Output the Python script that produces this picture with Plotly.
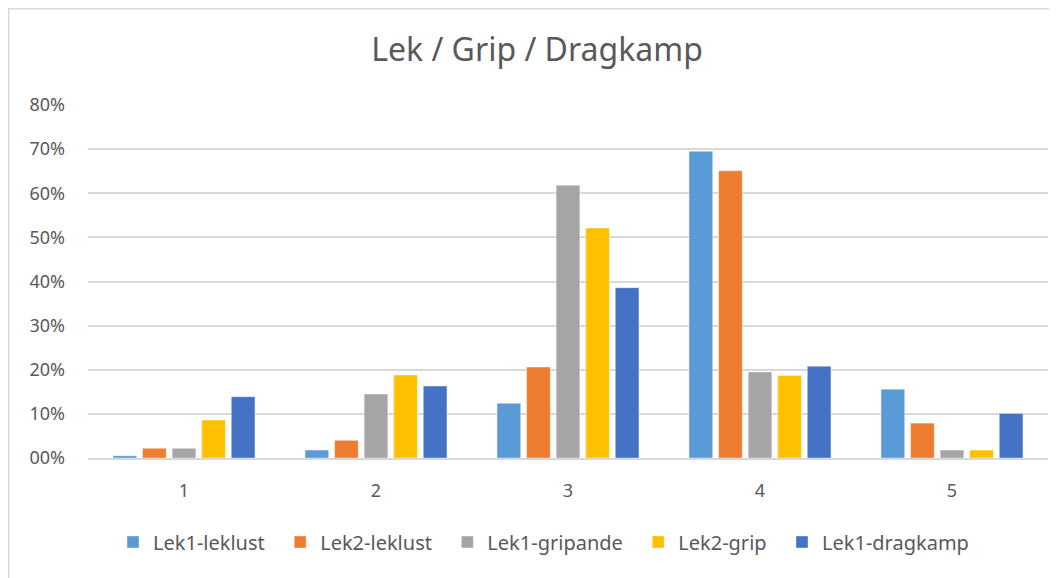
import plotly.graph_objects as go

categories = ["1", "2", "3", "4", "5"]
series_names = ["Lek1-leklust", "Lek2-leklust", "Lek1-gripande", "Lek2-grip", "Lek1-dragkamp"]
lek1_leklust = [0.005, 0.018, 0.124, 0.695, 0.156]
lek2_leklust = [0.022, 0.040, 0.206, 0.651, 0.079]
lek1_gripande = [0.022, 0.145, 0.618, 0.195, 0.018]
lek2_grip = [0.086, 0.188, 0.521, 0.187, 0.018]
lek1_dragkamp = [0.139, 0.163, 0.386, 0.208, 0.101]
colors = ["#5B9BD5", "#ED7D31", "#A5A5A5", "#FFC000", "#4472C4"]
tick_vals = [0, 0.1, 0.2, 0.3, 0.4, 0.5, 0.6, 0.7, 0.8]
tick_text = ["00%", "10%", "20%", "30%", "40%", "50%", "60%", "70%", "80%"]

all_series = [lek1_leklust, lek2_leklust, lek1_gripande, lek2_grip, lek1_dragkamp]

# page has an 8px body margin, so the figure is sized / offset to compensate
W, H = 1049, 570
ml, mr, mt, mb = 80, 9, 97, 120
font = "Noto Sans"
txt = "#595959"

fig = go.Figure()
for name, vals, col in zip(series_names, all_series, colors):
    fig.add_trace(go.Bar(x=categories, y=vals, name=name + "\u00a0\u00a0",
                         marker=dict(color=col, line=dict(color="rgba(255,255,255,0.5)", width=0.75))))

pw = W - ml - mr
ph = H - mt - mb
fig.add_shape(type="rect", xref="paper", yref="paper",
              x0=(0.75 - ml) / pw, x1=(W + 10 - ml) / pw,
              y0=-(mb + 10) / ph, y1=(ph + mt - 0.75) / ph,
              line=dict(color="#D9D9D9", width=1.5), fillcolor="rgba(0,0,0,0)", layer="below")

fig.update_layout(
    width=W, height=H,
    margin=dict(l=ml, r=mr, t=mt, b=mb),
    paper_bgcolor="white", plot_bgcolor="white",
    title=dict(text="Lek / Grip / Dragkamp", x=(537 - 8) / W, xanchor="center", y=1 - 42 / H, yanchor="middle",
               font=dict(family=font, size=32, color=txt)),
    barmode="group", bargap=0.23, bargroupgap=0.2,
    font=dict(family=font, color=txt),
    showlegend=True,
    legend=dict(orientation="h", x=(549 - 8 - ml) / pw, xanchor="center", y=-(534 - (H - mb)) / ph, yanchor="middle",
                font=dict(family=font, size=20, color=txt), itemwidth=30,
                traceorder="normal"),
    xaxis=dict(showgrid=False, showline=True, linecolor="#D9D9D9", linewidth=1.5,
               tickfont=dict(family=font, size=18, color=txt), ticks="", ticklabelstandoff=16),
    yaxis=dict(range=[0, 0.8], tickvals=tick_vals, ticktext=tick_text, showgrid=True,
               gridcolor="#D9D9D9", gridwidth=1.5, zeroline=False, showline=False,
               tickfont=dict(family=font, size=18, color=txt), ticks="", ticklabelstandoff=22),
)

fig.write_html("out.html")
